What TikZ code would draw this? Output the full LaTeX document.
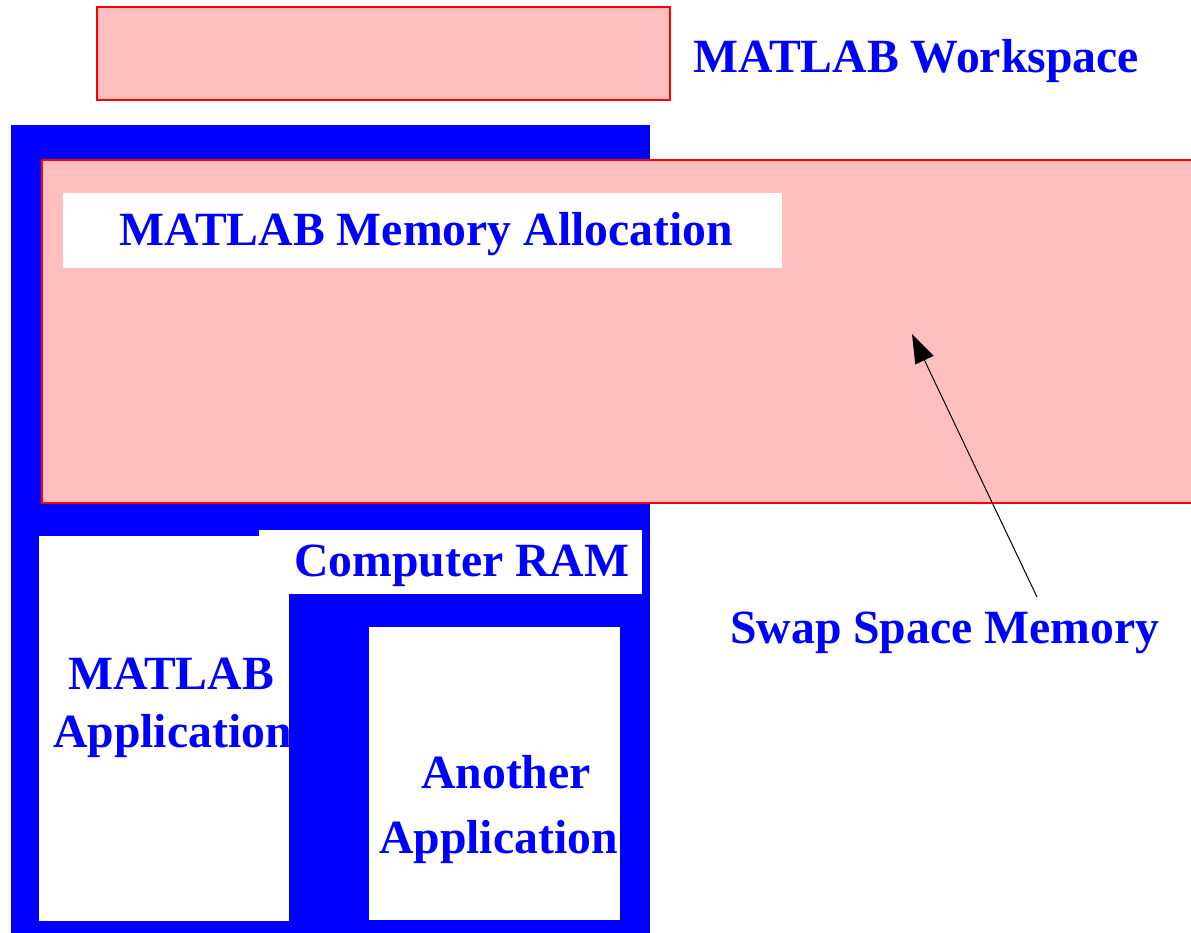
\documentclass[tikz,border=0pt]{standalone}
\usepackage{fontspec}
\setmainfont{Liberation Serif}
\usetikzlibrary{arrows.meta}
\definecolor{pinkfill}{RGB}{255,191,191}
\definecolor{mblue}{RGB}{0,0,255}
\definecolor{mred}{RGB}{255,0,0}
\tikzset{
  pinkbox/.style={fill=pinkfill, draw=mred, line width=1.2pt},
  bluefill/.style={fill=mblue},
  whitefill/.style={fill=white},
  lbl/.style={text=mblue, font=\fontsize{47.7}{56}\selectfont\bfseries, inner sep=0pt, anchor=base west},
  pointer/.style={draw=black, line width=1pt, -{Triangle[length=29pt,width=20pt]}}
}
\begin{document}
\begin{tikzpicture}[x=1pt,y=-1pt]
\useasboundingbox (0,0) rectangle (1191,933);
% top workspace box
\path[pinkbox] (97,7) rectangle (670,100);
\node[lbl] (ws) at (693,73) {MATLAB Workspace};
% computer RAM blue frame
\path[bluefill] (11,125) rectangle (650,940);
% swap / memory allocation box
\path[pinkbox] (42,160) rectangle (1200,503);
\path[whitefill] (63,193) rectangle (782,268);
\node[lbl] (alloc) at (119,246) {MATLAB Memory Allocation};
% white areas inside RAM
\path[whitefill] (39,536) rectangle (289,921);
\path[whitefill] (259,530) rectangle (642,594);
\path[whitefill] (369,627) rectangle (620,920);
\node[lbl] (ram) at (294,576) {Computer RAM};
\begin{scope}
\clip (39,536) rectangle (289,921);
\node[lbl] (ml1) at (68,689) {MATLAB};
\node[lbl] (ml2) at (53,747) {Application};
\end{scope}
\node[lbl] (an1) at (421,788) {Another};
\node[lbl] (an2) at (379,853) {Application};
% swap space label and arrow
\node[lbl] (swap) at (730,643) {Swap Space Memory};
\coordinate (swfrom) at (1037,597);
\coordinate (swto) at (912,334);
\draw[pointer] (swfrom) -- (swto);
\end{tikzpicture}
\end{document}
